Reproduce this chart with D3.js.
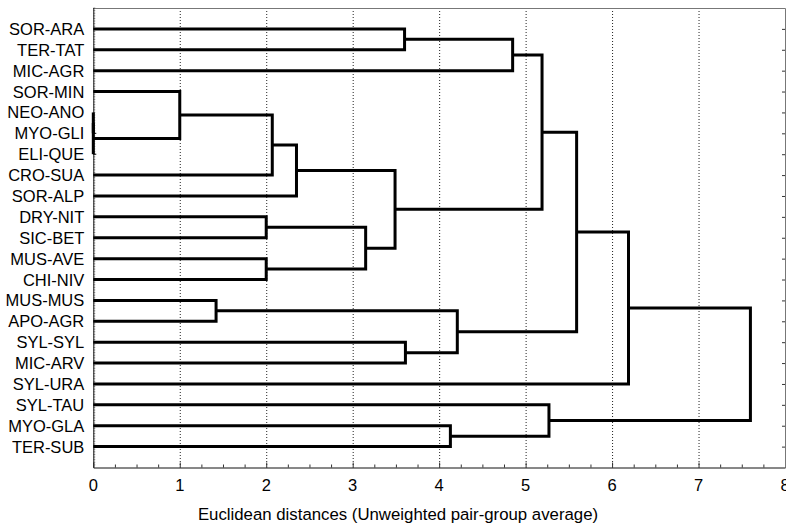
<!DOCTYPE html>
<html>
<head>
<meta charset="utf-8">
<script src="https://cdn.jsdelivr.net/npm/d3@7"></script>
<style>
  body { margin: 0; background: #fff; }
  text { font-family: "Liberation Sans", Arial, sans-serif; fill: #000; }
</style>
</head>
<body>
<div class="dendro"></div>
<script>
// leaf order, top to bottom
var leaves = ['SOR-ARA', 'TER-TAT', 'MIC-AGR', 'SOR-MIN', 'NEO-ANO', 'MYO-GLI', 'ELI-QUE',
  'CRO-SUA', 'SOR-ALP', 'DRY-NIT', 'SIC-BET', 'MUS-AVE', 'CHI-NIV', 'MUS-MUS', 'APO-AGR',
  'SYL-SYL', 'MIC-ARV', 'SYL-URA', 'SYL-TAU', 'MYO-GLA', 'TER-SUB'];

// joins: a leaf name or the number of an earlier join (1-based)
var joinA = ['NEO-ANO', 1, 'SOR-MIN', 'DRY-NIT', 'MUS-AVE', 3, 6, 'MUS-MUS', 4, 7,
  'SOR-ARA', 'SYL-SYL', 'MYO-GLA', 8, 11, 15, 'SYL-TAU', 16, 18, 19];
var joinB = ['MYO-GLI', 'ELI-QUE', 2, 'SIC-BET', 'CHI-NIV', 'CRO-SUA', 'SOR-ALP', 'APO-AGR', 5, 9,
  'TER-TAT', 'MIC-ARV', 'TER-SUB', 12, 'MIC-AGR', 10, 13, 14, 'SYL-URA', 17];
var joinDist = [0, 0, 1.00, 2.00, 2.00, 2.07, 2.35, 1.42, 3.15, 3.49,
  3.60, 3.61, 4.13, 4.21, 4.85, 5.19, 5.27, 5.59, 6.19, 7.60];

var xTicks = [0, 1, 2, 3, 4, 5, 6, 7, 8];
var xTitle = 'Euclidean distances (Unweighted pair-group average)';

var W = 786, H = 524,
  plot = { left: 93.3, right: 785, top: 8, bottom: 467.5 };

var svg = d3.select('.dendro')
  .append('svg')
  .attr('width', W)
  .attr('height', H);

var x = d3.scaleLinear()
  .domain([0, 8])
  .range([plot.left, plot.right]);

var y = d3.scalePoint()
  .domain(leaves)
  .range([plot.top, plot.bottom])
  .padding(1);

// grid lines
svg.append('g')
  .selectAll('line')
  .data(xTicks.slice(1, -1))
  .enter()
  .append('line')
  .attr('x1', d => x(d) + 0.5)
  .attr('x2', d => x(d) + 0.5)
  .attr('y1', plot.top)
  .attr('y2', plot.bottom)
  .attr('stroke', '#222')
  .attr('stroke-dasharray', '1,2');

// minor ticks on bottom axis
var minor = d3.range(0, 8.001, 0.25);
svg.append('g')
  .selectAll('line')
  .data(minor)
  .enter()
  .append('line')
  .attr('x1', d => x(d) + 0.5)
  .attr('x2', d => x(d) + 0.5)
  .attr('y1', plot.bottom)
  .attr('y2', d => plot.bottom - (d % 1 === 0 ? 5 : 3))
  .attr('stroke', '#333');

// left axis minor texture
var step = y.step();
var leftMinor = d3.range(plot.top, plot.bottom, step / 8);
svg.append('g')
  .selectAll('line')
  .data(leftMinor)
  .enter()
  .append('line')
  .attr('x1', plot.left)
  .attr('x2', plot.left + 2)
  .attr('y1', d => d)
  .attr('y2', d => d)
  .attr('stroke', '#999');

// right axis ticks at leaves
svg.append('g')
  .selectAll('line')
  .data(leaves)
  .enter()
  .append('line')
  .attr('x1', plot.right)
  .attr('x2', plot.right - 3)
  .attr('y1', d => y(d) + 0.5)
  .attr('y2', d => y(d) + 0.5)
  .attr('stroke', '#333');

// frame
svg.append('path')
  .attr('d', 'M' + plot.left + ',' + (plot.top + 0.5) + 'H' + (plot.right + 0.5) + 'V' + plot.bottom)
  .attr('fill', 'none')
  .attr('stroke', '#777');
svg.append('path')
  .attr('d', 'M' + (plot.left + 0.5) + ',' + plot.top + 'V' + (plot.bottom + 0.5) + 'H' + (plot.right + 0.5))
  .attr('fill', 'none')
  .attr('stroke', '#111');

// build dendrogram nodes
var nodes = [];
function getNode(ref) {
  if (typeof ref === 'number') return nodes[ref - 1];
  return { y: y(ref), h: 0 };
}
joinDist.forEach(function (h, i) {
  var a = getNode(joinA[i]),
    b = getNode(joinB[i]);
  nodes.push({ a: a, b: b, h: h, y: (a.y + b.y) / 2 });
});

svg.append('g')
  .attr('class', 'links')
  .selectAll('path')
  .data(nodes)
  .enter()
  .append('path')
  .attr('d', function (d) {
    return 'M' + x(d.a.h) + ',' + d.a.y +
      'H' + x(d.h) + 'V' + d.b.y + 'H' + x(d.b.h);
  })
  .attr('fill', 'none')
  .attr('stroke', '#000')
  .attr('stroke-width', 3)
  .attr('stroke-linejoin', 'miter');

// zero-height stubs
svg.append('g')
  .selectAll('line')
  .data(nodes.filter(d => d.h === 0))
  .enter()
  .append('line')
  .attr('x1', plot.left)
  .attr('x2', plot.left + 3)
  .attr('y1', d => d.b.y)
  .attr('y2', d => d.b.y)
  .attr('stroke', '#000')
  .attr('stroke-width', 1);

// leaf labels
svg.append('g')
  .selectAll('text')
  .data(leaves)
  .enter()
  .append('text')
  .attr('x', plot.left - 9)
  .attr('y', d => y(d) + 6)
  .attr('text-anchor', 'end')
  .style('font-size', '16.5px')
  .text(d => d);

// x tick labels
svg.append('g')
  .selectAll('text')
  .data(xTicks)
  .enter()
  .append('text')
  .attr('x', d => x(d))
  .attr('y', 491)
  .attr('text-anchor', 'middle')
  .style('font-size', '16.5px')
  .text(d => d);

svg.append('text')
  .attr('x', 398)
  .attr('y', 519.5)
  .attr('text-anchor', 'middle')
  .style('font-size', '16.8px')
  .text(xTitle);
</script>
</body>
</html>
